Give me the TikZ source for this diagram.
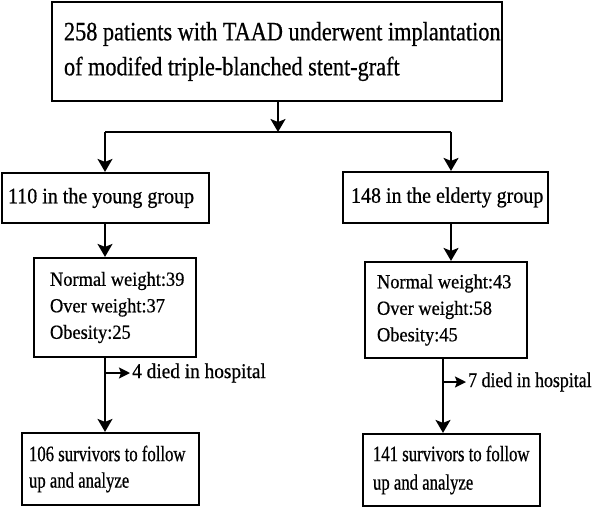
\documentclass[tikz,border=0pt]{standalone}
\usepackage{fontspec}
\setmainfont{Liberation Serif}
\newfontfamily\fTop[FakeStretch=0.84,FakeBold=0.6]{Liberation Serif}
\newfontfamily\fGrp[FakeStretch=0.91,FakeBold=0.6]{Liberation Serif}
\newfontfamily\fWt[FakeStretch=0.92,FakeBold=0.6]{Liberation Serif}
\newfontfamily\fDie[FakeStretch=0.92,FakeBold=0.6]{Liberation Serif}
\newfontfamily\fDieB[FakeStretch=0.85,FakeBold=0.6]{Liberation Serif}
\newfontfamily\fSur[FakeStretch=0.76,FakeBold=0.6]{Liberation Serif}
\usetikzlibrary{arrows.meta}
% #1 box width, #2 left padding, #3 line spacing, #4 lines as \hbox{...}
\newcommand\tbx[4]{\hbox to #1{\hskip#2\vbox{\baselineskip=#3\relax\lineskiplimit=0pt\relax #4}\hss}}
\begin{document}
\begin{tikzpicture}[x=1pt,y=-1pt,
  box/.style={draw, line width=2.2pt, inner xsep=0pt, inner ysep=0pt},
  conn/.style={line width=1.8pt},
  arr/.style={conn, -{Stealth[width=15pt,length=13pt,inset=3pt]}},
  sarr/.style={conn, -{Stealth[width=11pt,length=11pt,inset=2pt]}},
  note/.style={inner xsep=2pt, inner ysep=0pt, anchor=west}]
\useasboundingbox (0,0) rectangle (597,507);

% boxes
\node[box, minimum width=450pt, minimum height=99pt] (top) at (277,51.5)
  {\fTop\fontsize{26.5}{35}\selectfont\tbx{450pt}{12pt}{35pt}%
   {\hbox{258 patients with TAAD underwent implantation}\hbox{of modifed triple-blanched stent-graft}}};

\node[box, minimum width=207pt, minimum height=50pt] (g1) at (105.5,198)
  {\fGrp\fontsize{22}{26}\selectfont\tbx{207pt}{6pt}{26pt}{\hbox{110 in the young group}}};
\node[box, minimum width=205pt, minimum height=51pt] (g2) at (445.5,197.5)
  {\fGrp\fontsize{22}{26}\selectfont\tbx{205pt}{8pt}{26pt}{\hbox{148 in the elderty group}}};

\node[box, minimum width=162pt, minimum height=99pt] (w1) at (115,307.5)
  {\fWt\fontsize{20}{26.5}\selectfont\tbx{162pt}{16pt}{26.5pt}%
   {\hbox{Normal weight:39}\hbox{Over weight:37}\hbox{Obesity:25}}};
\node[box, minimum width=162pt, minimum height=96pt] (w2) at (446,310)
  {\fWt\fontsize{20}{26.5}\selectfont\tbx{162pt}{12pt}{26.5pt}%
   {\hbox{Normal weight:43}\hbox{Over weight:58}\hbox{Obesity:45}}};

\node[box, minimum width=177pt, minimum height=72pt] (s1) at (110.5,469)
  {\fSur\fontsize{22}{27}\selectfont\tbx{177pt}{7pt}{26.5pt}%
   {\hbox{106 survivors to follow}\hbox{up and analyze}}};
\node[box, minimum width=177pt, minimum height=72pt] (s2) at (451.5,470)
  {\fSur\fontsize{22}{28}\selectfont\tbx{177pt}{10pt}{28.5pt}%
   {\hbox{141 survivors to follow}\hbox{up and analyze}}};

% side notes
\node[note] (d1) at (130,373) {\fDie\fontsize{21}{25}\selectfont 4 died in hospital};
\node[note] (d2) at (466,382) {\fDieB\fontsize{21}{25}\selectfont 7 died in hospital};

% junctions
\coordinate (jc) at (278,132);
\coordinate (jl) at (105,132);
\coordinate (jr) at (451,132);
\coordinate (vl) at (105,0);
\coordinate (vr) at (443,0);

% connectors
\draw[arr] (top.south -| jc) -- (jc);
\draw[conn] (jl) -- (jr);
\draw[arr] (jl) -- (g1.north -| jl);
\draw[arr] (jr) -- (g2.north -| jr);
\draw[arr] (g1.south -| vl) -- (w1.north -| vl);
\draw[arr] (g2.south -| jr) -- (w2.north -| jr);
\draw[arr] (w1.south -| vl) -- (s1.north -| vl);
\draw[arr] (w2.south -| vr) -- (s2.north -| vr);
\draw[sarr] (d1.west -| vl) -- (d1.west);
\draw[sarr] (d2.west -| vr) -- (d2.west);
\end{tikzpicture}
\end{document}
